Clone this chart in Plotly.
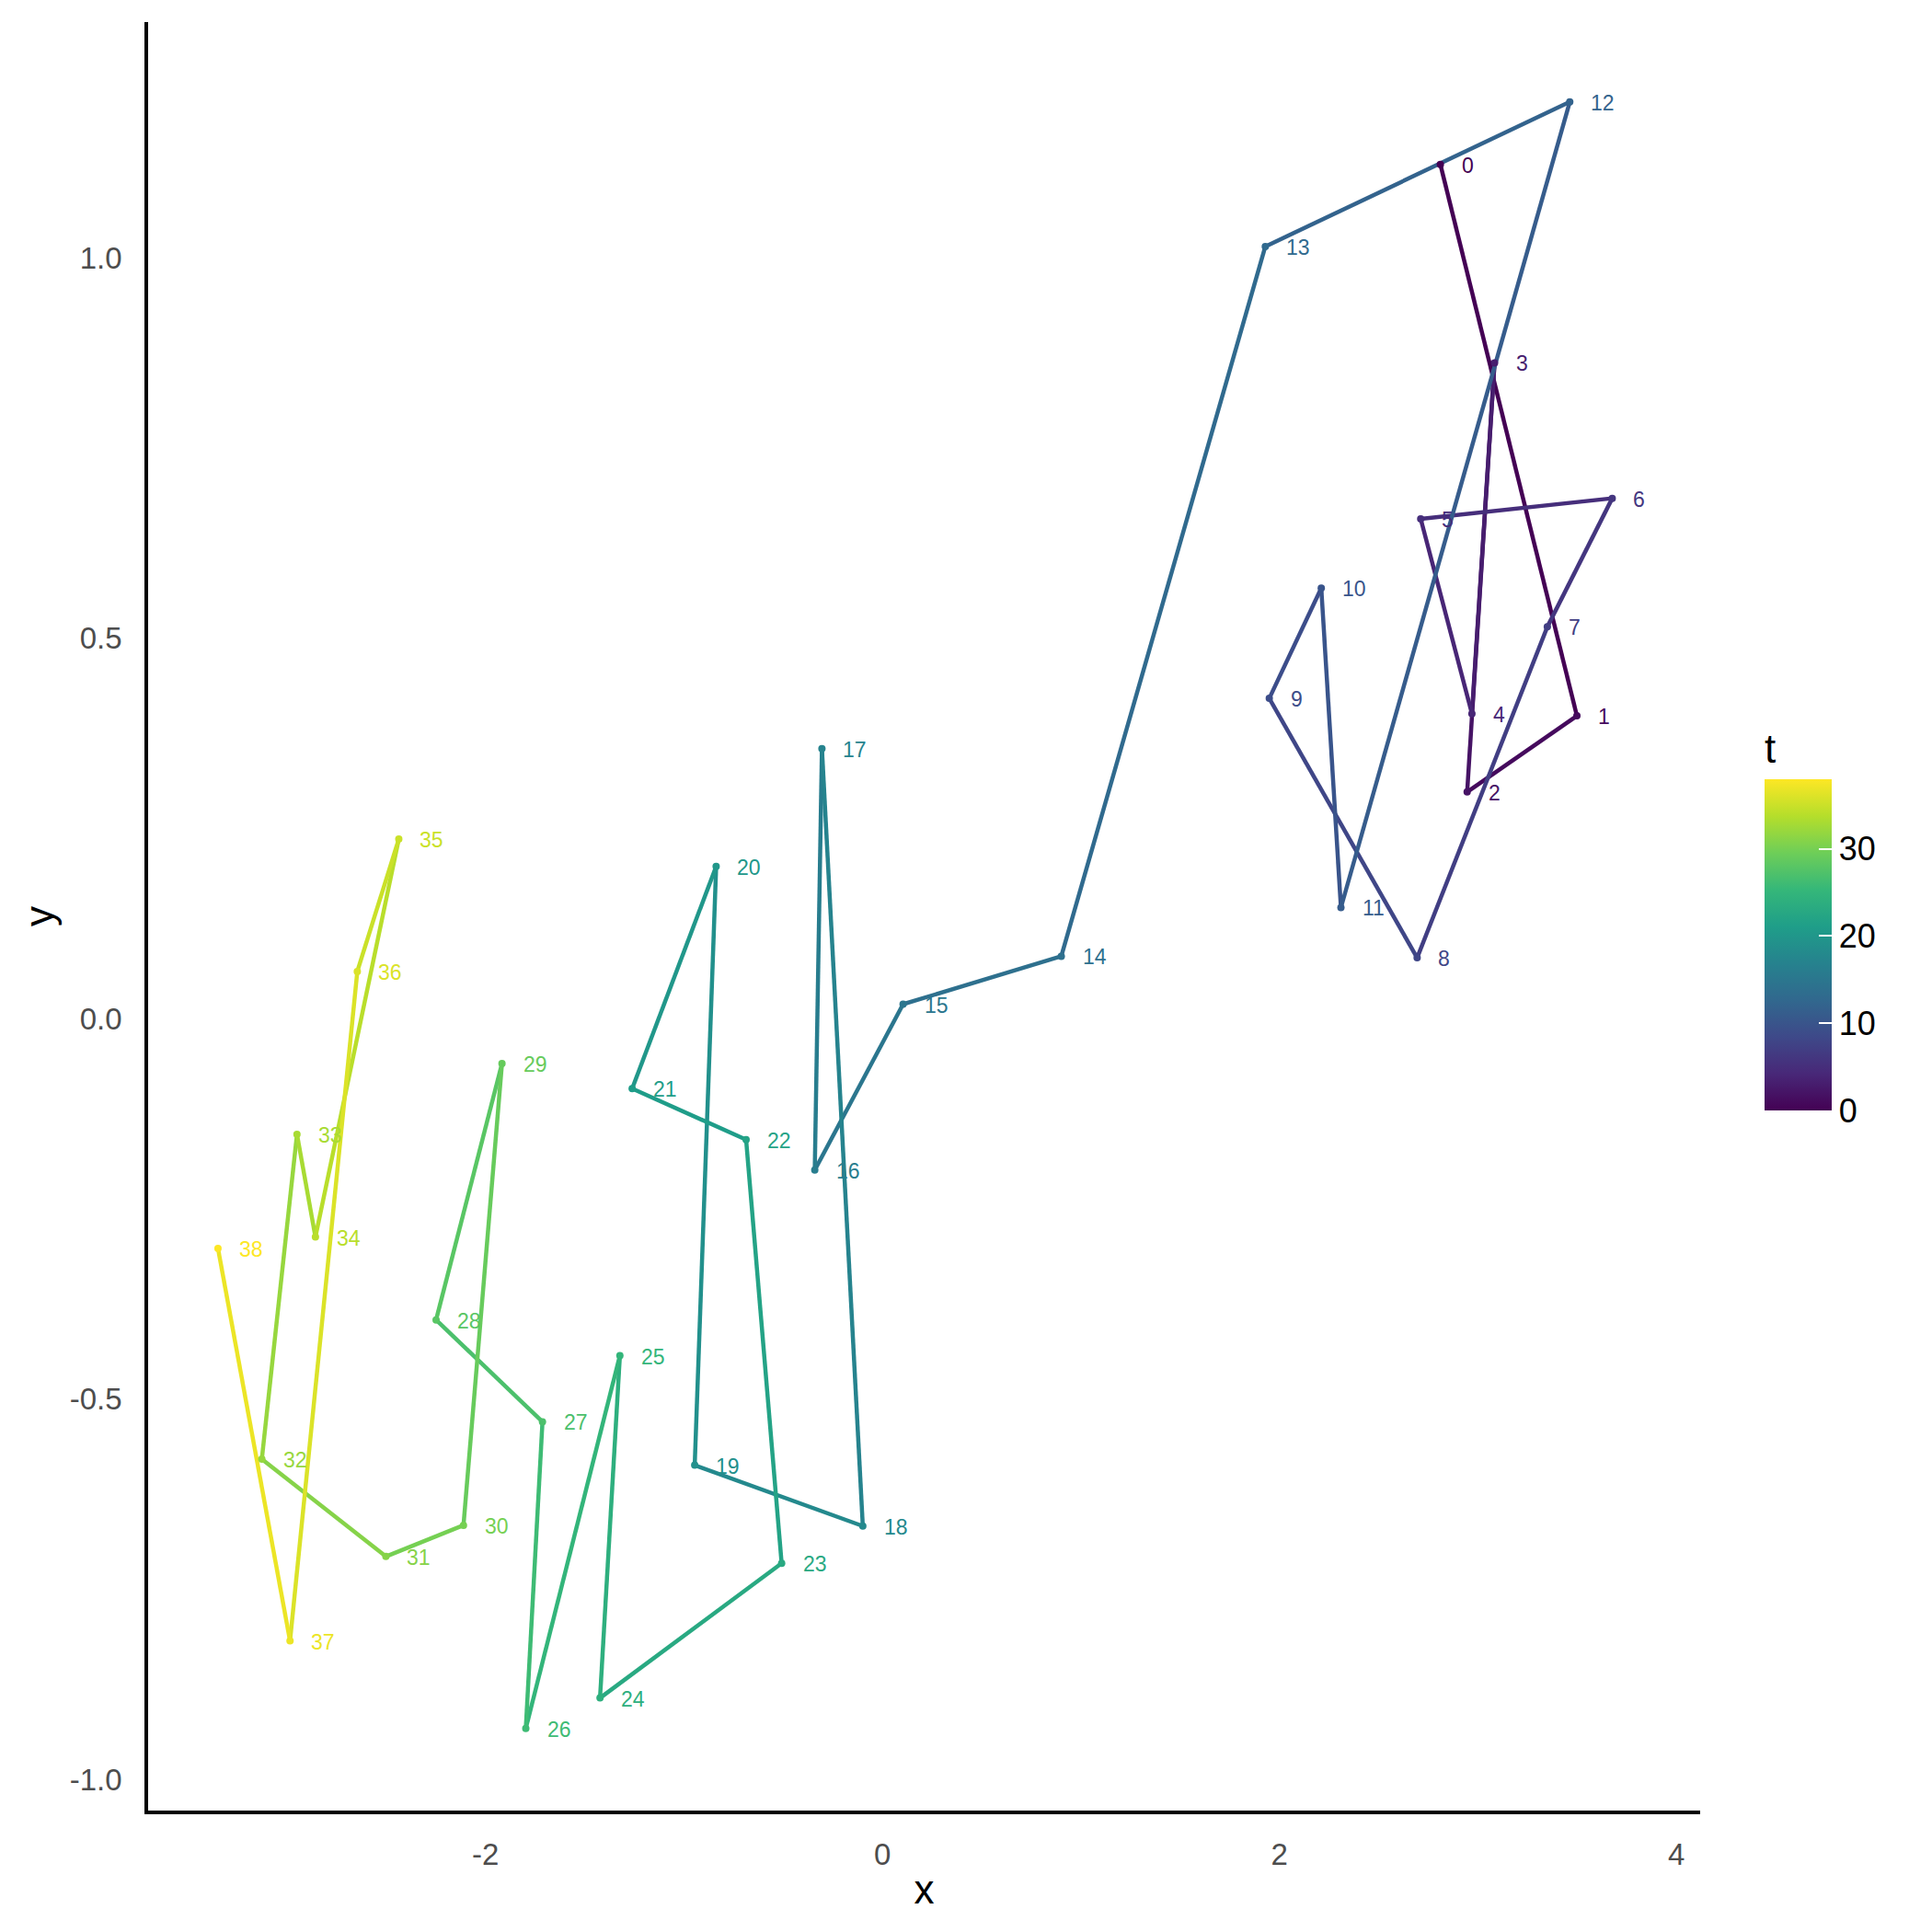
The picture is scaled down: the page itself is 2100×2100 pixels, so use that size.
import plotly.graph_objects as go
from plotly.colors import sample_colorscale

t = list(range(39))
x = [2.811, 3.499, 2.946, 3.084, 2.970, 2.712, 3.677, 3.350, 2.694, 1.949,
     2.211, 2.310, 3.463, 1.929, 0.901, 0.104, -0.341, -0.305, -0.099, -0.946,
     -0.838, -1.261, -0.687, -0.508, -1.423, -1.323, -1.797, -1.713, -2.249, -1.917,
     -2.111, -2.502, -3.127, -2.950, -2.857, -2.437, -2.646, -2.985, -3.348]
y = [1.123, 0.398, 0.298, 0.862, 0.401, 0.657, 0.684, 0.515, 0.080, 0.421,
     0.566, 0.146, 1.205, 1.015, 0.082, 0.019, -0.199, 0.355, -0.667, -0.587,
     0.200, -0.092, -0.159, -0.716, -0.893, -0.443, -0.933, -0.530, -0.396, -0.059,
     -0.666, -0.707, -0.579, -0.152, -0.287, 0.236, 0.062, -0.818, -0.302]

x_ticks = [-2, 0, 2, 4]
x_ticktext = ["-2", "0", "2", "4"]
y_ticks = [-1.0, -0.5, 0.0, 0.5, 1.0]
y_ticktext = ["-1.0", "-0.5", "0.0", "0.5", "1.0"]
cb_ticks = [0, 10, 20, 30]

tmin, tmax = 0, 38
FONT = "Liberation Sans, Arial, sans-serif"

def col(v):
    return sample_colorscale("Viridis", [(v - tmin) / (tmax - tmin)])[0]

fig = go.Figure()

# path segments, coloured by start point
for i in range(len(t) - 1):
    fig.add_trace(go.Scatter(
        x=[x[i], x[i + 1]], y=[y[i], y[i + 1]], mode="lines",
        line=dict(color=col(t[i]), width=4.5), showlegend=False, hoverinfo="skip"))

# points + colourbar
fig.add_trace(go.Scatter(
    x=x, y=y, mode="markers", showlegend=False,
    marker=dict(size=8, color=t, colorscale="Viridis", cmin=tmin, cmax=tmax,
                showscale=True,
                colorbar=dict(
                    title=dict(text="t", side="top", font=dict(size=44, color="black", family=FONT)),
                    xref="paper", x=1.0415, xanchor="left", xpad=0,
                    yref="paper", y=0.3915, yanchor="bottom", ypad=0,
                    lenmode="pixels", len=414, thickness=73,
                    outlinewidth=0, tickvals=cb_ticks, ticks="inside",
                    ticklen=14, tickwidth=2, tickcolor="white",
                    tickfont=dict(size=36, color="black", family=FONT)))))

# text labels
for i in range(len(t)):
    fig.add_annotation(x=x[i], y=y[i], text=str(t[i]), showarrow=False,
                       xanchor="left", yanchor="middle", xshift=21, yshift=-1,
                       font=dict(size=23, color=col(t[i]), family=FONT))

fig.update_layout(
    width=2100, height=2100,
    margin=dict(l=161, r=252, t=24, b=132),
    paper_bgcolor="white", plot_bgcolor="white",
    font=dict(family=FONT),
)
fig.update_xaxes(range=[-3.70, 4.12], tickvals=x_ticks, ticktext=x_ticktext,
                 showgrid=False, zeroline=False, showline=True, linecolor="black",
                 linewidth=3.5, ticks="", ticklabelstandoff=16,
                 tickfont=dict(size=33, color="#4d4d4d", family=FONT),
                 title=dict(text="x", font=dict(size=44, color="black", family=FONT), standoff=6))
fig.update_yaxes(range=[-1.041, 1.31], tickvals=y_ticks, ticktext=y_ticktext,
                 showgrid=False, zeroline=False, showline=True, linecolor="black",
                 linewidth=3.5, ticks="", ticklabelstandoff=18,
                 tickfont=dict(size=33, color="#4d4d4d", family=FONT),
                 title=dict(text="y", font=dict(size=44, color="black", family=FONT), standoff=4))

fig.write_html("out.html")
